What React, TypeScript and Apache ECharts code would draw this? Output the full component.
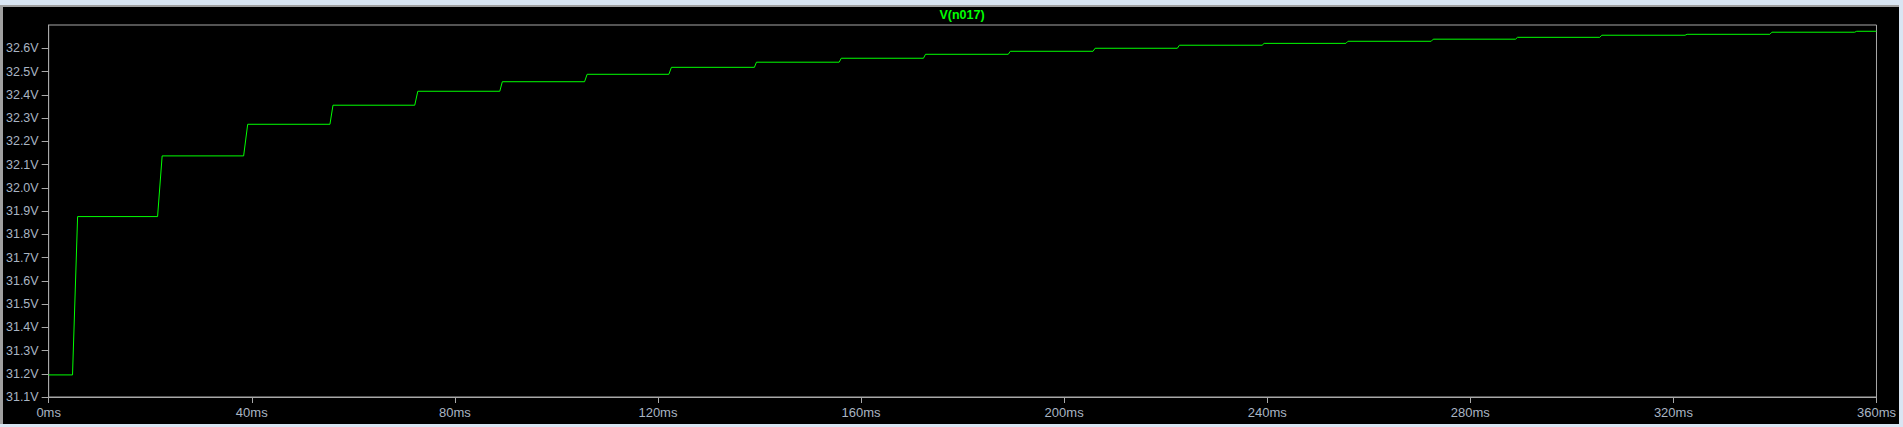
import React, { useEffect, useRef } from "react";
import * as echarts from "echarts";

// Step instants (ms) and the voltage reached after each step (V)
const stepTimes = [5.2, 21.9, 38.8, 55.7, 72.4, 89.1, 105.8, 122.4, 139.2, 155.9, 172.5, 189.2, 205.9, 222.5, 239.2, 255.7, 272.5, 289.1, 305.7, 322.5, 339.2, 355.9];
const stepLevels = [31.876, 32.137, 32.273, 32.355, 32.415, 32.456, 32.488, 32.518, 32.54, 32.557, 32.574, 32.587, 32.6, 32.613, 32.621, 32.63, 32.639, 32.647, 32.656, 32.66, 32.669, 32.673];
const riseMs = [1.0, 0.9, 0.8, 0.6, 0.6, 0.5, 0.5, 0.5, 0.4, 0.4, 0.4, 0.4, 0.4, 0.4, 0.4, 0.4, 0.4, 0.4, 0.4, 0.4, 0.4, 0.4];
const startLevel = 31.195;
const endTime = 360;

const yTicks = [31.1, 31.2, 31.3, 31.4, 31.5, 31.6, 31.7, 31.8, 31.9, 32.0, 32.1, 32.2, 32.3, 32.4, 32.5, 32.6];
const xTicks = [0, 40, 80, 120, 160, 200, 240, 280, 320, 360];

function buildData(): [number, number][] {
  const pts: [number, number][] = [[0, startLevel]];
  let prev = startLevel;
  stepTimes.forEach((t, i) => {
    const r = riseMs[i];
    pts.push([t - r / 2, prev]);
    pts.push([t + r / 2, stepLevels[i]]);
    prev = stepLevels[i];
  });
  pts.push([endTime, prev]);
  return pts;
}

const FRAME = "#a8a8a8";
const TEXT = "#a9b5c3";
const GREEN = "#00ff00";

export default function App() {
  const ref = useRef<HTMLDivElement>(null);
  useEffect(() => {
    if (!ref.current) return;
    const chart = echarts.init(ref.current, undefined, { renderer: "svg" });
    chart.setOption({
      animation: false,
      backgroundColor: "#000000",
      grid: {
        left: 42,
        top: 18,
        right: 20,
        bottom: 27,
        show: true,
        borderColor: FRAME,
        borderWidth: 1,
        backgroundColor: "transparent",
      },
      graphic: [
        {
          type: "text",
          x: 959,
          y: 7.5,
          style: {
            text: "V(n017)",
            fill: GREEN,
            font: "bold 12.5px Arial, 'Liberation Sans', sans-serif",
            textAlign: "center",
            textVerticalAlign: "middle",
          },
        },
      ],
      xAxis: {
        type: "value",
        min: 0,
        max: 360,
        interval: 40,
        splitLine: { show: false },
        axisLine: { show: true, lineStyle: { color: FRAME, width: 1 } },
        axisTick: {
          show: true,
          inside: false,
          length: 6,
          lineStyle: { color: FRAME },
          customValues: xTicks,
        },
        axisLabel: {
          color: TEXT,
          fontSize: 13,
          fontFamily: "Arial, 'Liberation Sans', sans-serif",
          margin: 9,
          customValues: xTicks,
          formatter: (v: number) => `${v}ms`,
        },
      },
      yAxis: {
        type: "value",
        min: 31.1,
        max: 32.7,
        splitLine: { show: false },
        axisLine: { show: true, lineStyle: { color: FRAME, width: 1 } },
        axisTick: {
          show: true,
          inside: false,
          length: 7,
          lineStyle: { color: FRAME },
          customValues: yTicks,
        },
        axisLabel: {
          color: TEXT,
          fontSize: 12.5,
          fontFamily: "Arial, 'Liberation Sans', sans-serif",
          margin: 10,
          customValues: yTicks,
          formatter: (v: number) => `${v.toFixed(1)}V`,
        },
      },
      series: [
        {
          type: "line",
          data: buildData(),
          showSymbol: false,
          symbol: "none",
          lineStyle: { color: GREEN, width: 1 },
          itemStyle: { color: GREEN },
        },
      ],
    });
    return () => chart.dispose();
  }, []);

  return (
    <div
      style={{
        position: "fixed",
        left: 0,
        top: 0,
        width: 1903,
        height: 427,
        background: "#d9e5f2",
        overflow: "hidden",
      }}
    >
      <div style={{ position: "absolute", left: 0, top: 5, width: 3, height: 419, background: "#a0a0a0" }} />
      <div style={{ position: "absolute", left: 0, top: 5, width: 1899, height: 2, background: "#a0a0a0" }} />
      <div
        ref={ref}
        style={{ position: "absolute", left: 3, top: 7, width: 1896, height: 417 }}
      />
    </div>
  );
}
